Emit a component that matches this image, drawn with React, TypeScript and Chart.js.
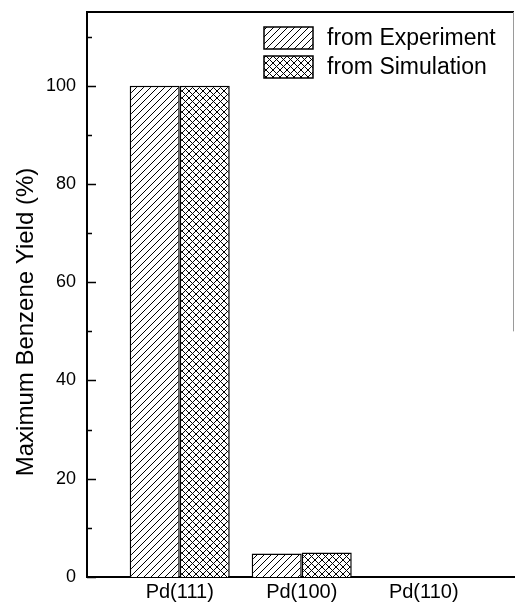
import React, { useEffect, useRef } from "react";
import { Chart, registerables } from "chart.js";

Chart.register(...registerables);

// Category names along the x axis
const categories = ["Pd(111)", "Pd(100)", "Pd(110)"];
// Maximum benzene yield (%) per surface
const experimentYield = [100, 4.8, 0];
const simulationYield = [100, 5.0, 0];
// Y axis ticks
const yMajorTicks = [0, 20, 40, 60, 80, 100];
const yMinorTicks = [10, 30, 50, 70, 90, 110];
const yMax = 115;

const seriesLabels = ["from Experiment", "from Simulation"];
const yTitle = "Maximum Benzene Yield (%)";

const FONT = "'Liberation Sans', Arial, Helvetica, sans-serif";

function makeHatch(cross: boolean): CanvasPattern | string {
  const size = 7;
  const c = document.createElement("canvas");
  c.width = size;
  c.height = size;
  const g = c.getContext("2d");
  if (!g) return "#fff";
  g.fillStyle = "#fff";
  g.fillRect(0, 0, size, size);
  g.strokeStyle = "#000";
  g.lineWidth = 1;
  g.beginPath();
  // "/" strokes
  g.moveTo(0, size);
  g.lineTo(size, 0);
  g.moveTo(-1, 1);
  g.lineTo(1, -1);
  g.moveTo(size - 1, size + 1);
  g.lineTo(size + 1, size - 1);
  if (cross) {
    // "\" strokes
    g.moveTo(0, 0);
    g.lineTo(size, size);
    g.moveTo(-1, size - 1);
    g.lineTo(1, size + 1);
    g.moveTo(size - 1, -1);
    g.lineTo(size + 1, 1);
  }
  g.stroke();
  const p = g.createPattern(c, "repeat");
  return p || "#fff";
}

// Frame, inward tick marks, axis title and in-plot legend
const decorPlugin = {
  id: "decor",
  afterDatasetsDraw(chart: any) {
    const { ctx, chartArea } = chart;
    const y = chart.scales.y;
    const { left, right, top } = chartArea;
    ctx.save();
    ctx.strokeStyle = "#000";
    ctx.lineCap = "butt";

    // top frame line
    ctx.lineWidth = 2;
    ctx.beginPath();
    ctx.moveTo(left - 1, top);
    ctx.lineTo(right, top);
    ctx.stroke();

    // faint right frame line
    ctx.strokeStyle = "#9a9a9a";
    ctx.lineWidth = 1;
    ctx.beginPath();
    ctx.moveTo(right - 0.5, top);
    ctx.lineTo(right - 0.5, y.getPixelForValue(50));
    ctx.stroke();

    // inward ticks on the y axis
    ctx.strokeStyle = "#000";
    ctx.lineWidth = 1.5;
    ctx.beginPath();
    yMajorTicks.forEach((v) => {
      const py = Math.round(y.getPixelForValue(v)) + 0.5;
      ctx.moveTo(left, py);
      ctx.lineTo(left + 9, py);
    });
    yMinorTicks.forEach((v) => {
      const py = Math.round(y.getPixelForValue(v)) + 0.5;
      ctx.moveTo(left, py);
      ctx.lineTo(left + 5, py);
    });
    ctx.stroke();

    // y axis title
    ctx.fillStyle = "#000";
    ctx.font = `24px ${FONT}`;
    ctx.textAlign = "center";
    ctx.textBaseline = "alphabetic";
    ctx.translate(33, 322);
    ctx.rotate(-Math.PI / 2);
    ctx.fillText(yTitle, 0, 0);
    ctx.restore();

    // legend
    ctx.save();
    const boxX = left + 177;
    const boxW = 49;
    const boxH = 22;
    const rows = [top + 15, top + 44];
    chart.data.datasets.forEach((ds: any, i: number) => {
      const by = rows[i];
      ctx.fillStyle = ds.backgroundColor;
      ctx.fillRect(boxX, by, boxW, boxH);
      ctx.strokeStyle = "#000";
      ctx.lineWidth = 1.5;
      ctx.strokeRect(boxX, by, boxW, boxH);
      ctx.fillStyle = "#000";
      ctx.font = `23px ${FONT}`;
      ctx.textAlign = "left";
      ctx.textBaseline = "middle";
      ctx.fillText(seriesLabels[i], boxX + boxW + 14, by + boxH / 2 + 1);
    });
    ctx.restore();
  },
};

export default function App() {
  const canvasRef = useRef<HTMLCanvasElement | null>(null);

  useEffect(() => {
    const canvas = canvasRef.current;
    if (!canvas) return;
    const hatch = makeHatch(false);
    const crossHatch = makeHatch(true);

    const chart = new Chart(canvas, {
      type: "bar",
      data: {
        datasets: [
          {
            label: seriesLabels[0],
            data: categories.map((_, i) => ({ x: i, y: experimentYield[i] })),
            backgroundColor: hatch as any,
            borderColor: "#000",
            borderWidth: 1.5,
            categoryPercentage: 0.82,
            barPercentage: 1,
          },
          {
            label: seriesLabels[1],
            data: categories.map((_, i) => ({ x: i, y: simulationYield[i] })),
            backgroundColor: crossHatch as any,
            borderColor: "#000",
            borderWidth: 1.5,
            categoryPercentage: 0.82,
            barPercentage: 1,
          },
        ],
      },
      options: {
        responsive: false,
        animation: false,
        devicePixelRatio: 1,
        layout: { padding: { top: 12, right: 1, left: 0, bottom: 0 } },
        plugins: {
          legend: { display: false },
          tooltip: { enabled: false },
        },
        scales: {
          x: {
            type: "linear",
            offset: false,
            min: -0.76,
            max: 2.74,
            grid: { display: false, drawTicks: false, offset: false },
            border: { display: true, color: "#000", width: 2 },
            afterBuildTicks: (scale: any) => {
              scale.ticks = categories.map((_, i) => ({ value: i }));
            },
            afterFit: (scale: any) => {
              scale.height = 29;
              scale.paddingLeft = 0;
              scale.paddingRight = 0;
            },
            ticks: {
              color: "#000",
              padding: 3,
              font: { family: FONT, size: 20 },
              maxRotation: 0,
              autoSkip: false,
              callback: (v: any) => categories[Math.round(Number(v))] ?? "",
            },
          },
          y: {
            min: 0,
            max: yMax,
            grid: { display: false, drawTicks: false },
            border: { display: true, color: "#000", width: 2 },
            afterBuildTicks: (scale: any) => {
              scale.ticks = yMajorTicks.map((v) => ({ value: v }));
            },
            afterFit: (scale: any) => {
              scale.width = 87;
              scale.paddingTop = 0;
              scale.paddingBottom = 0;
            },
            ticks: {
              color: "#000",
              padding: 11,
              font: { family: FONT, size: 18 },
            },
          },
        },
      },
      plugins: [decorPlugin],
    });

    return () => chart.destroy();
  }, []);

  return (
    <div
      style={{
        position: "absolute",
        left: 0,
        top: 0,
        width: 515,
        height: 606,
        background: "#fff",
      }}
    >
      <canvas ref={canvasRef} width={515} height={606} />
    </div>
  );
}
